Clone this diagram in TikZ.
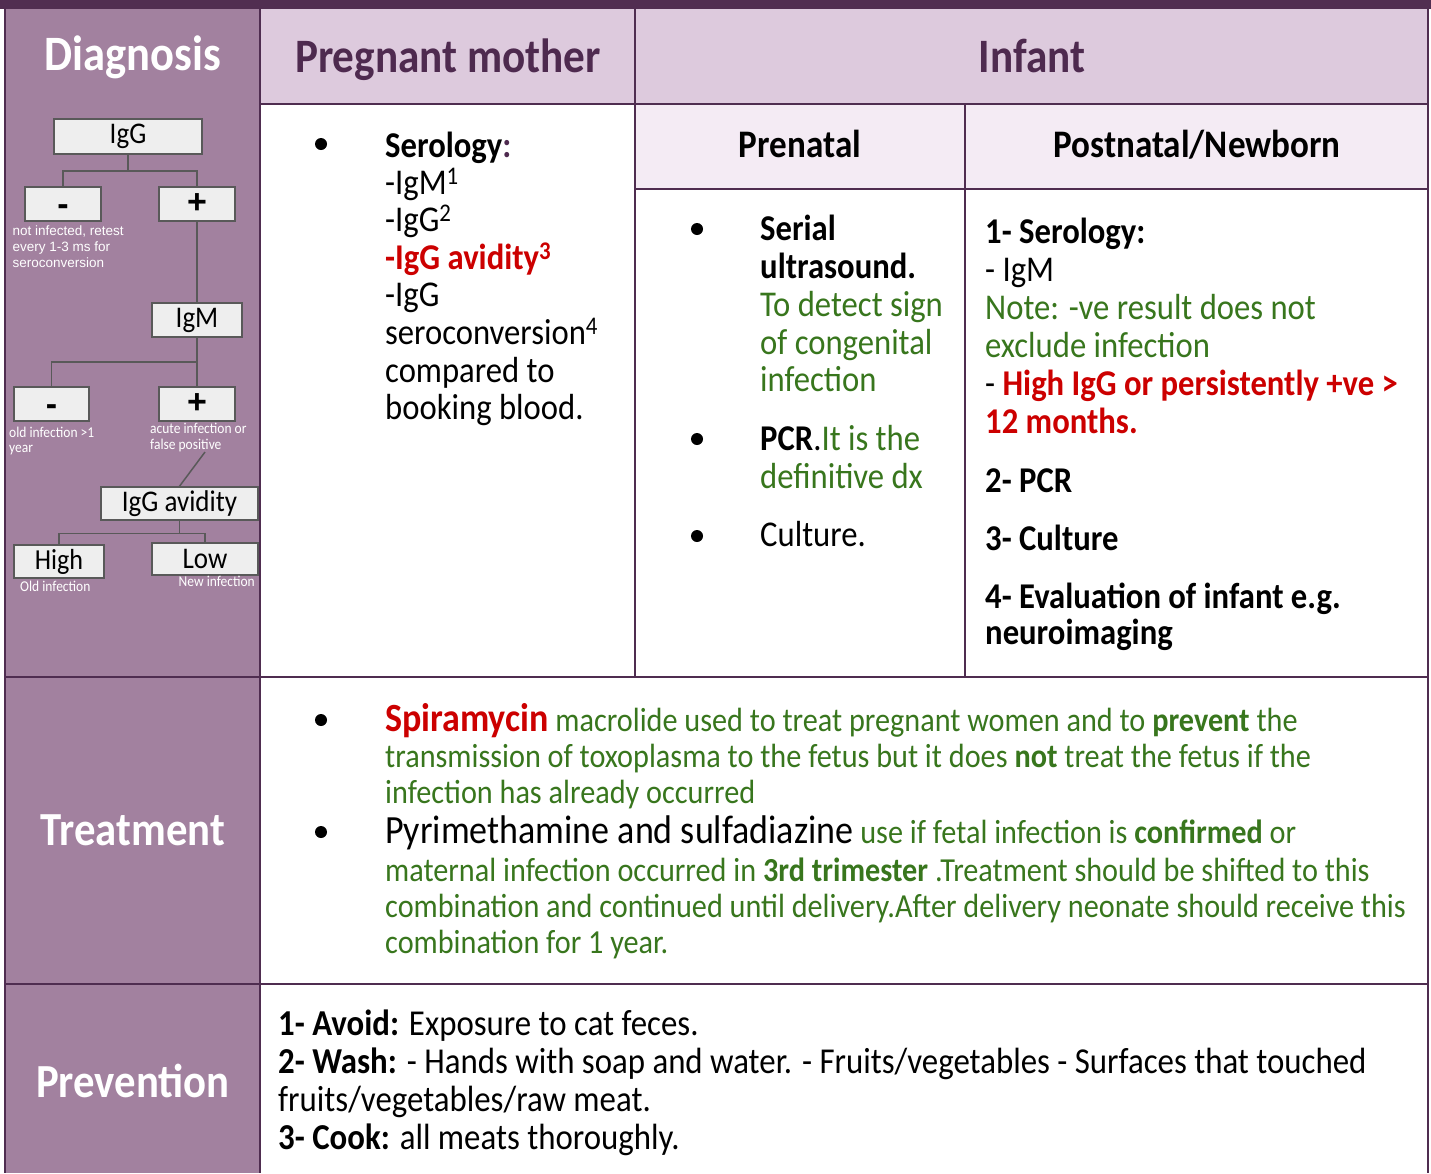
\documentclass[tikz,border=0pt]{standalone}
\usepackage{fontspec}
\setmainfont[FakeStretch=0.9]{Carlito}
\newfontfamily\arialf{Liberation Sans}
\definecolor{band}{HTML}{512E51}
\definecolor{side}{HTML}{A2819F}
\definecolor{hdrfill}{HTML}{DDCADD}
\definecolor{subfill}{HTML}{F4EBF4}
\definecolor{gridc}{HTML}{4F2D50}
\definecolor{hdr}{HTML}{4E2A4F}
\definecolor{grn}{HTML}{38761D}
\definecolor{rd}{HTML}{CC0000}
\definecolor{boxfill}{HTML}{EEEEEE}
\definecolor{boxline}{HTML}{595959}
\newcommand\fs[1]{\fontsize{#1}{#1}\selectfont}
\begin{document}
\begin{tikzpicture}[x=1pt,y=-1pt,
  txt/.style={anchor=base west,inner sep=0pt},
  ctxt/.style={anchor=base,inner sep=0pt},
  rtxt/.style={anchor=base east,inner sep=0pt},
  tbox/.style={draw=boxline,line width=1.5pt,fill=boxfill,inner sep=0pt},
  tline/.style={draw=boxline,line width=1.5pt},
  gridl/.style={draw=gridc,line width=2pt},
  bul/.style={circle,fill=black,inner sep=0pt,minimum size=12pt},
  body/.style={font=\fs{36.3}},
  gbody/.style={font=\fs{33.6},text=grn},
  pbody/.style={font=\fs{36.5}},
  small/.style={font=\fs{15},text=white},
  pm/.style={font=\arialf\bfseries\fs{34}},
  minus/.style={font=\arialf\bfseries\fs{34},yshift=-6pt}]
\useasboundingbox (0,0) rectangle (1431,1173);
% backgrounds
\fill[white] (0,0) rectangle (1431,1173);
\fill[band] (0,0) rectangle (1431,9);
\fill[side] (5,9) rectangle (260,1173);
\fill[hdrfill] (260,9) rectangle (1428,104);
\fill[subfill] (635,104) rectangle (1428,189);
% grid
\draw[gridl] (5,8) -- (5,1173);
\draw[gridl] (260,8) -- (260,1173);
\draw[gridl] (1428,8) -- (1428,1173);
\draw[gridl] (635,8) -- (635,677);
\draw[gridl] (965,104) -- (965,677);
\draw[gridl] (260,104) -- (1428,104);
\draw[gridl] (635,189) -- (1428,189);
\draw[gridl] (5,677) -- (1428,677);
\draw[gridl] (5,984) -- (1428,984);
% headers
\node[ctxt,text=white,font=\bfseries\fs{49.5}] (hdiag) at (133,70) {Diagnosis};
\node[ctxt,text=hdr,font=\bfseries\fs{48}] (hmom) at (448,72) {Pregnant mother};
\node[ctxt,text=hdr,font=\bfseries\fs{48}] (hinf) at (1032,72) {Infant};
\node[ctxt,font=\bfseries\fs{39}] (hpre) at (800,157) {Prenatal};
\node[ctxt,font=\bfseries\fs{39}] (hpost) at (1197,157) {Postnatal/Newborn};
\node[ctxt,text=white,font=\bfseries\fs{47.5}] (htreat) at (133,845) {Treatment};
\node[ctxt,text=white,font=\bfseries\fs{47.5}] (hprev) at (133,1097) {Prevention};
% decision tree
\node[tbox,minimum width=148pt,minimum height=35pt] (igg) at (128,136.5) {\fs{30}IgG};
\node[tbox,minimum width=76pt,minimum height=34pt] (neg1) at (63,204) {};
\node[minus] (neg1t) at (neg1) {-};
\node[tbox,minimum width=76pt,minimum height=34pt] (pos1) at (197,204) {};
\node[pm] (pos1t) at (pos1) {+};
\node[tbox,minimum width=90pt,minimum height=34pt] (igm) at (197,320) {\fs{30}IgM};
\node[tbox,minimum width=75pt,minimum height=34pt] (neg2) at (51.5,404) {};
\node[minus] (neg2t) at (neg2) {-};
\node[tbox,minimum width=76pt,minimum height=34pt] (pos2) at (197,404) {};
\node[pm] (pos2t) at (pos2) {+};
\node[tbox,minimum width=157pt,minimum height=33pt] (avid) at (179.5,503.5) {\fs{30}IgG avidity};
\node[tbox,minimum width=90pt,minimum height=33pt] (high) at (59,561.5) {\fs{29}High};
\node[tbox,minimum width=106pt,minimum height=32pt] (low) at (205,559) {\fs{30}Low};
\draw[tline] (igg.south) -- ++(0,16) -| (neg1.north);
\draw[tline] (igg.south) -- ++(0,16) -| (pos1.north);
\draw[tline] (pos1.south) -- (igm.north);
\draw[tline] (igm.south) -- ++(0,24) -| (neg2.north);
\draw[tline] (igm.south) -- (pos2.north);
\draw[tline] (avid.south) -- ++(0,12.5) -| (high.north);
\draw[tline] (avid.south) -- ++(0,12.5) -| (low.north);
\coordinate (dstart) at (205,452);
\draw[tline] (dstart) -- (avid.north);
\node[txt,text=white,font=\arialf\fontsize{13.5}{16}\selectfont,align=left,anchor=north west] (n1note) at (12.5,226) {not infected, retest\\every 1-3 ms for\\seroconversion};
\node[txt,small] (n2a) at (9,437) {old infection >1};
\node[txt,small] (n2b) at (9,452) {year};
\node[txt,small] (p2a) at (150,433) {acute infection or};
\node[txt,small] (p2b) at (150,449) {false positive};
\node[txt,small] (hnote) at (20,591) {Old infection};
\node[rtxt,small] (lnote) at (255,586) {New infection};
% mother column
\node[bul] (bm) at (321,144) {};
\node[txt,body] (m1) at (385,157) {\bfseries Serology\textcolor{hdr}{:}};
\node[txt,body] (m2) at (385,194) {-IgM\textsuperscript{1}};
\node[txt,body] (m3) at (385,231) {-IgG\textsuperscript{2}};
\node[txt,body,text=rd] (m4) at (385,269) {\bfseries -IgG avidity\textsuperscript{3}};
\node[txt,body] (m5) at (385,306) {-IgG};
\node[txt,body] (m6) at (385,344) {seroconversion\textsuperscript{4}};
\node[txt,body] (m7) at (385,382) {compared to};
\node[txt,body] (m8) at (385,419) {booking blood.};
% prenatal
\node[bul] (bp1) at (697,229) {};
\node[bul] (bp2) at (697,439) {};
\node[bul] (bp3) at (697,536) {};
\node[txt,body] (p1) at (760,240) {\bfseries Serial};
\node[txt,body] (p2) at (760,278) {\bfseries ultrasound.};
\node[txt,body,text=grn] (p3) at (760,316) {To detect sign};
\node[txt,body,text=grn] (p4) at (760,354) {of congenital};
\node[txt,body,text=grn] (p5) at (760,391) {infection};
\node[txt,body] (p6) at (760,450) {\textbf{PCR}.\textcolor{grn}{It is the}};
\node[txt,body,text=grn] (p7) at (760,488) {definitive dx};
\node[txt,body] (p8) at (760,546) {Culture.};
% postnatal
\node[txt,body] (q1) at (985,243) {\bfseries 1- Serology:};
\node[txt,body] (q2) at (985,281) {- IgM};
\node[txt,body,text=grn] (q3) at (985,319) {Note: -ve result does not};
\node[txt,body,text=grn] (q4) at (985,357) {exclude infection};
\node[txt,body] (q5) at (985,395) {- \textcolor{rd}{\bfseries High IgG or persistently +ve >}};
\node[txt,body,text=rd] (q6) at (985,433) {\bfseries 12 months.};
\node[txt,body] (q7) at (985,492) {\bfseries 2- PCR};
\node[txt,body] (q8) at (985,550) {\bfseries 3- Culture};
\node[txt,body] (q9) at (985,608) {\bfseries 4- Evaluation of infant e.g.};
\node[txt,body] (q10) at (985,644) {\bfseries neuroimaging};
% treatment
\node[bul] (bt1) at (321,720) {};
\node[bul] (bt2) at (321,832) {};
\node[txt,gbody] (t1) at (385,731) {\textcolor{rd}{\bfseries\fs{40}Spiramycin} macrolide used to treat pregnant women and to \textbf{prevent} the};
\node[txt,gbody] (t2) at (385,767) {transmission of toxoplasma to the fetus but it does \textbf{not} treat the fetus if the};
\node[txt,gbody] (t3) at (385,803) {infection has already occurred};
\node[txt,gbody] (t4) at (385,843) {\textcolor{black}{\fs{40}Pyrimethamine and sulfadiazine} use if fetal infection is \textbf{confirmed} or};
\node[txt,gbody] (t5) at (385,881) {maternal infection occurred in \textbf{3rd trimester} .Treatment should be shifted to this};
\node[txt,gbody] (t6) at (385,917) {combination and continued until delivery.After delivery neonate should receive this};
\node[txt,gbody] (t7) at (385,953) {combination for 1 year.};
% prevention
\node[txt,pbody] (v1) at (278,1035) {\textbf{1- Avoid:} Exposure to cat feces.};
\node[txt,pbody] (v2) at (278,1073) {\textbf{2- Wash:} - Hands with soap and water. - Fruits/vegetables - Surfaces that touched};
\node[txt,pbody] (v3) at (278,1111) {fruits/vegetables/raw meat.};
\node[txt,pbody] (v4) at (278,1149) {\textbf{3- Cook:} all meats thoroughly.};
\end{tikzpicture}
\end{document}
